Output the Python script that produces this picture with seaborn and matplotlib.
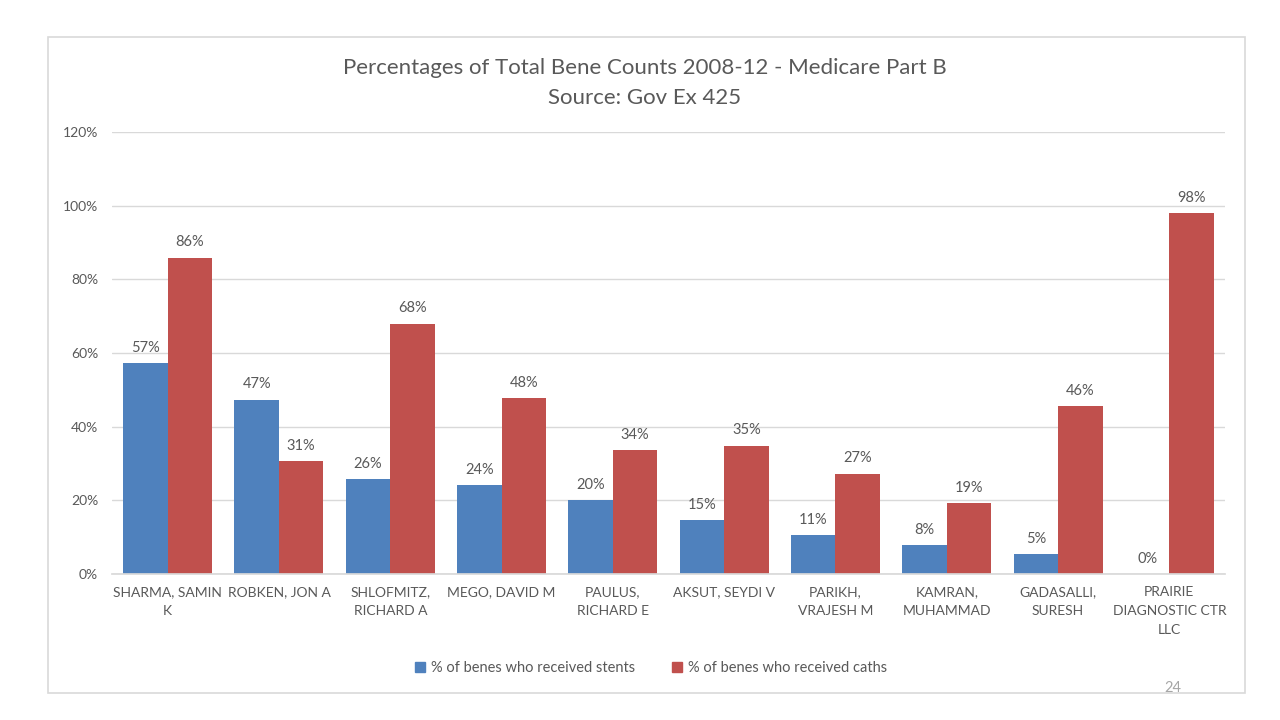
import matplotlib
matplotlib.use("Agg")
import matplotlib.pyplot as plt
import matplotlib.patches as mpatches
from matplotlib.ticker import PercentFormatter
import seaborn as sns
import pandas as pd

categories = ["SHARMA, SAMIN\nK", "ROBKEN, JON A", "SHLOFMITZ,\nRICHARD A", "MEGO, DAVID M",
              "PAULUS,\nRICHARD E", "AKSUT, SEYDI V", "PARIKH,\nVRAJESH M", "KAMRAN,\nMUHAMMAD",
              "GADASALLI,\nSURESH", "PRAIRIE\nDIAGNOSTIC CTR\nLLC"]
stents = [0.573, 0.473, 0.258, 0.242, 0.201, 0.147, 0.106, 0.079, 0.054, 0.0]
caths = [0.859, 0.307, 0.680, 0.477, 0.337, 0.348, 0.272, 0.193, 0.456, 0.980]
series_names = ["% of benes who received stents", "% of benes who received caths"]
colors = ["#4F81BD", "#C0504D"]

sns.set_theme(style="white")
plt.rcParams['font.family'] = ['Lato', 'DejaVu Sans']
TXT = "#595959"

df = pd.DataFrame({
    "name": categories * 2,
    "value": stents + caths,
    "series": [series_names[0]] * len(categories) + [series_names[1]] * len(categories),
})

fig = plt.figure(figsize=(12.8, 7.2), dpi=100)
ax = fig.add_axes([112/1280, 1 - 574/720, (1225-112)/1280, (574-132)/720])

sns.barplot(data=df, x="name", y="value", hue="series", palette=colors,
            saturation=1, width=0.8, ax=ax, legend=False, linewidth=0)

ax.set_ylim(0, 1.2)
ax.set_yticks([0, 0.2, 0.4, 0.6, 0.8, 1.0, 1.2])
ax.yaxis.set_major_formatter(PercentFormatter(1.0, decimals=0))
ax.grid(axis="y", color="#D9D9D9", linewidth=1)
ax.set_axisbelow(True)
for s in ["left", "right", "top"]:
    ax.spines[s].set_visible(False)
ax.spines["bottom"].set_color("#D9D9D9")
ax.tick_params(axis="both", length=0, labelsize=10, colors=TXT)
ax.tick_params(axis="y", pad=10)
ax.tick_params(axis="x", pad=9)
ax.set_xlabel("")
ax.set_ylabel("")
for lbl in ax.get_xticklabels():
    lbl.set_linespacing(1.65)

for cont in ax.containers:
    ax.bar_label(cont, labels=[f"{v*100:.0f}%" for v in cont.datavalues],
                 padding=6, fontsize=10.5, color=TXT)

fig.text(645/1280, 1 - 68/720, "Percentages of Total Bene Counts 2008-12 - Medicare Part B",
         ha="center", va="center", fontsize=16, color=TXT)
fig.text(645/1280, 1 - 98/720, "Source: Gov Ex 425",
         ha="center", va="center", fontsize=16, color=TXT)

handles = [mpatches.Patch(color=c, label=n) for c, n in zip(colors, series_names)]
fig.legend(handles=handles, loc="center", bbox_to_anchor=(651/1280, 1 - 668/720), ncol=2,
           frameon=False, fontsize=10.5, handlelength=0.7, handleheight=0.7,
           handletextpad=0.4, columnspacing=2.5, labelcolor=TXT)

fig.patches.append(mpatches.Rectangle((48/1280, 1 - 693/720), (1245-48)/1280, (693-37)/720,
                                      transform=fig.transFigure, fill=False,
                                      edgecolor="#D9D9D9", linewidth=1.2))
fig.text(1173/1280, 1 - 688/720, "24", ha="center", va="center", fontsize=10.5, color="#A6A6A6")

fig.savefig("out.png", dpi=100)
